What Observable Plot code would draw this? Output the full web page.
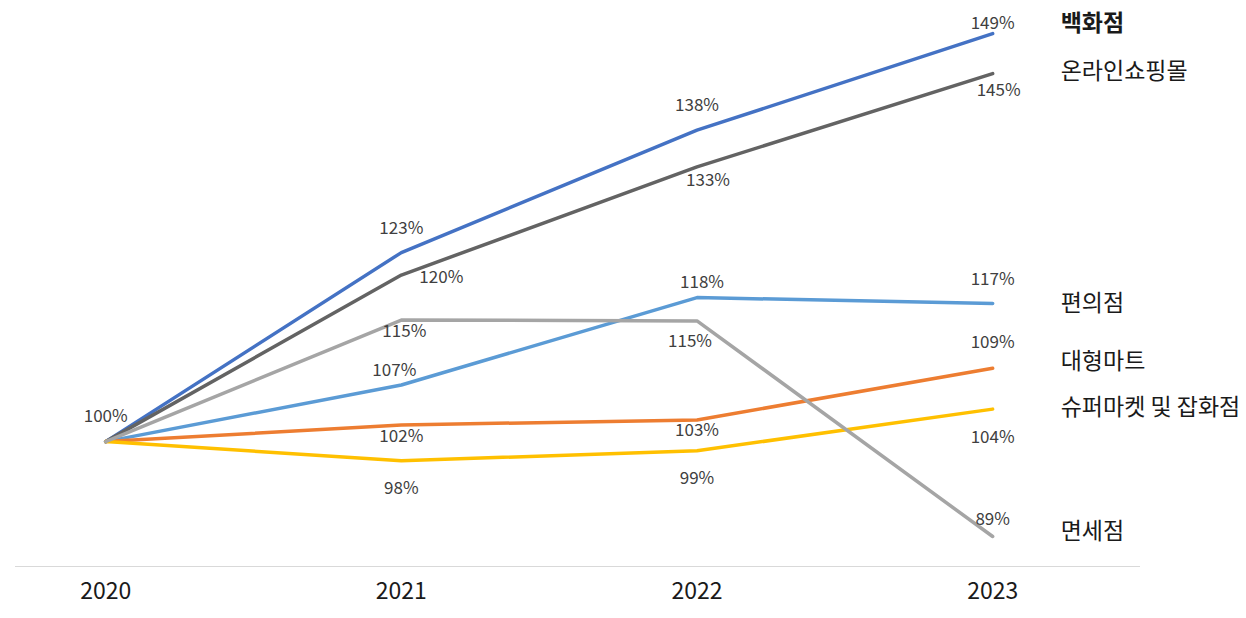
<!DOCTYPE html>
<html>
<head>
<meta charset="utf-8">
<script src="https://cdn.jsdelivr.net/npm/d3@7"></script>
<script src="https://cdn.jsdelivr.net/npm/@observablehq/plot@0.6"></script>
<style>
  html, body { margin: 0; padding: 0; background: #fff; }
  #chart svg { display: block; }
</style>
</head>
<body>
<div id="chart"></div>
<script>
const years = [2020, 2021, 2022, 2023];
const seriesNames = ["백화점", "온라인쇼핑몰", "편의점", "대형마트", "슈퍼마켓 및 잡화점", "면세점"];
const dept   = [100, 122.7, 137.4, 149.0];
const online = [100, 120.0, 133.0, 144.2];
const conv   = [100, 106.8, 117.3, 116.6];
const mart   = [100, 102.0, 102.6, 108.8];
const super_ = [100, 97.7, 98.9, 103.9];
const duty   = [100, 114.6, 114.5, 88.6];
const deptLabels   = ["100%", "123%", "138%", "149%"];
const onlineLabels = [null, "120%", "133%", "145%"];
const convLabels   = [null, "107%", "118%", "117%"];
const martLabels   = [null, "102%", "103%", "109%"];
const superLabels  = [null, "98%", "99%", "104%"];
const dutyLabels   = [null, "115%", "115%", "89%"];

const seriesValues = [dept, online, conv, mart, super_, duty];
const seriesLabels = [deptLabels, onlineLabels, convLabels, martLabels, superLabels, dutyLabels];
const colors = ["#4472C4", "#636363", "#5B9BD5", "#ED7D31", "#FFC000", "#A5A5A5"];

// layout: label offsets [dx, dy] in pixels
const labelOffsets = [
  [[0,-25],[0,-24],[0,-25],[0,-10]],
  [[0,0],[40,2],[11,14],[6,17]],
  [[0,0],[-7,-14],[5,-15],[0,-24]],
  [[0,0],[0,12],[0,11],[0,-26]],
  [[0,0],[0,28],[0,28],[0,28]],
  [[0,0],[3,12],[-7,21],[0,-17]]
];
const nameOffsets = [-10, -2, 0, -7, -2, -5];

const rows = seriesNames.flatMap((s, i) => years.map((yr, j) => ({
  series: s, year: yr, value: seriesValues[i][j], label: seriesLabels[i][j], si: i, yi: j
})));

const font = "'Noto Sans CJK KR', 'Noto Sans', sans-serif";

const labelMarks = rows.filter(d => d.label).map(d =>
  Plot.text([d], {
    x: "year", y: "value", text: "label",
    dx: labelOffsets[d.si][d.yi][0], dy: labelOffsets[d.si][d.yi][1],
    fill: "#404040", fontSize: 17, textAnchor: "middle"
  })
);

const nameMarks = seriesNames.map((s, i) =>
  Plot.text([{year: years[3], value: seriesValues[i][3], name: s}], {
    x: "year", y: "value", text: "name",
    dx: 68, dy: nameOffsets[i], textAnchor: "start",
    fill: "#1a1a1a", fontSize: 23, fontWeight: i === 0 ? "bold" : "normal"
  })
);

const chart = Plot.plot({
  width: 1246,
  height: 618,
  marginLeft: 15,
  marginRight: 106,
  marginTop: 24.8,
  marginBottom: 52,
  style: { fontFamily: font, background: "#fff" },
  x: { domain: [2019.695, 2023.5], ticks: years, tickFormat: "d" },
  y: { domain: [85, 150], axis: null },
  color: { domain: seriesNames, range: colors },
  marks: [
    Plot.ruleY([85], { stroke: "#d9d9d9", strokeWidth: 1.2 }),
    Plot.axisX({ ticks: years, tickFormat: "d", tickSize: 0, tickPadding: 16, fontSize: 23, fill: "#1a1a1a", label: null }),
    Plot.line(rows, { x: "year", y: "value", z: "series", stroke: "series", strokeWidth: 3.5, strokeLinecap: "round", strokeLinejoin: "round" }),
    ...labelMarks,
    ...nameMarks
  ]
});

document.getElementById("chart").appendChild(chart);
</script>
</body>
</html>
